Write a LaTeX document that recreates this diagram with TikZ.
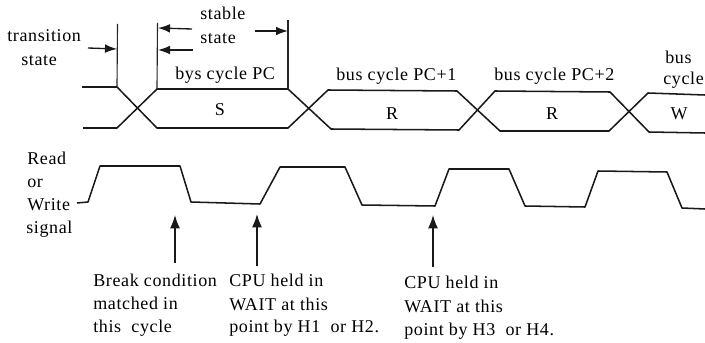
\documentclass[tikz,border=0pt]{standalone}
\usepackage{fontspec}
\setmainfont[LetterSpace=3.5]{Liberation Serif}
\usetikzlibrary{arrows.meta}
\tikzset{
  sig/.style={line width=1.15pt,black!90,line join=round},
  guide/.style={line width=0.85pt,black!85},
  arr/.style={line width=1pt,black!90,-{Latex[length=9pt,width=6.5pt]}},
  ptr/.style={line width=1.1pt,black!90,-{Latex[length=10pt,width=7.5pt]}},
  lab/.style={inner sep=0pt,font=\fontsize{13.5pt}{15pt}\selectfont,text=black},
  lft/.style={lab,anchor=base west},
  ctr/.style={lab,anchor=base}
}
\begin{document}
\begin{tikzpicture}[x=0.75pt,y=-0.75pt]
\useasboundingbox (0,0) rectangle (705,342);
% bus waveform
\draw[sig] (82,87) -- (117,87) -- (157,128) -- (288,128) -- (328,90) -- (457,91) -- (500,131) -- (609,131) -- (648,93) -- (705,95);
\draw[sig] (83,128) -- (117,128) -- (157,89) -- (288,89) -- (331,129) -- (459,130) -- (495,91) -- (610,92) -- (649,132) -- (705,133);
% read/write waveform
\draw[sig] (77,203) -- (88,202) -- (100,166) -- (180,166) -- (191,202) -- (260,204) -- (280,167) -- (345,167) -- (362,205) -- (435,206) -- (449,169) -- (509,169) -- (525,206) -- (585,207) -- (598,171) -- (667,172) -- (682,208) -- (705,209);
% guide lines
\coordinate (g1t) at (117.5,24); \coordinate (g1b) at (117,87);
\coordinate (g2t) at (157.5,23); \coordinate (g2b) at (157,89);
\coordinate (g3t) at (288,20);   \coordinate (g3b) at (288,89);
\draw[guide] (g1t) -- (g1b);
\draw[guide] (g2t) -- (g2b);
\draw[guide] (g3t) -- (g3b);
% dimension arrows
\coordinate (a1s) at (88,48);  \coordinate (a1e) at (117,49);
\coordinate (a2s) at (192,29); \coordinate (a2e) at (158,28);
\coordinate (a3s) at (193,50); \coordinate (a3e) at (158,50);
\coordinate (a4s) at (255,31); \coordinate (a4e) at (288,31);
\draw[arr] (a1s) -- (a1e);
\draw[arr] (a2s) -- (a2e);
\draw[arr] (a3s) -- (a3e);
\draw[arr] (a4s) -- (a4e);
% pointer arrows
\coordinate (p1s) at (175,263); \coordinate (p1e) at (175,215);
\coordinate (p2s) at (257,266); \coordinate (p2e) at (257,214);
\coordinate (p3s) at (433,267); \coordinate (p3e) at (433,215);
\draw[ptr] (p1s) -- (p1e);
\draw[ptr] (p2s) -- (p2e);
\draw[ptr] (p3s) -- (p3e);
% labels
\node[lft] (t1) at (7,42) {transition};
\node[lft] (t2) at (21,66) {state};
\node[lft] (t3) at (200,20) {stable};
\node[lft] (t4) at (200,44) {state};
\node[lft] (t5) at (175,80) {bys cycle PC};
\node[ctr] (s)  at (220,116) {S};
\node[lft] (t6) at (336,81) {bus cycle PC+1};
\node[ctr] (r1) at (392,119) {R};
\node[lft] (t7) at (494,81) {bus cycle PC+2};
\node[ctr] (r2) at (552,119) {R};
\node[lft] (t8) at (665,64) {bus};
\node[lft] (t9) at (663,85) {cycle};
\node[ctr] (w)  at (679,119) {W};
\node[lft] (t10) at (27,164) {Read};
\node[lft] (t11) at (27,187) {or};
\node[lft] (t12) at (27,210) {Write};
\node[lft] (t13) at (26,233) {signal};
\node[lft] (t14) at (93,286) {Break condition};
\node[lft] (t15) at (93,309) {matched in};
\node[lft] (t16) at (93,332) {this\ \ cycle};
\node[lft] (t17) at (229,286) {CPU held in};
\node[lft] (t18) at (229,310) {WAIT at this};
\node[lft] (t19) at (229,332) {point by H1\ \ or H2.};
\node[lft] (t20) at (404,288) {CPU held in};
\node[lft] (t21) at (404,312) {WAIT at this};
\node[lft] (t22) at (404,335) {point by H3\ \ or H4.};
\end{tikzpicture}
\end{document}
